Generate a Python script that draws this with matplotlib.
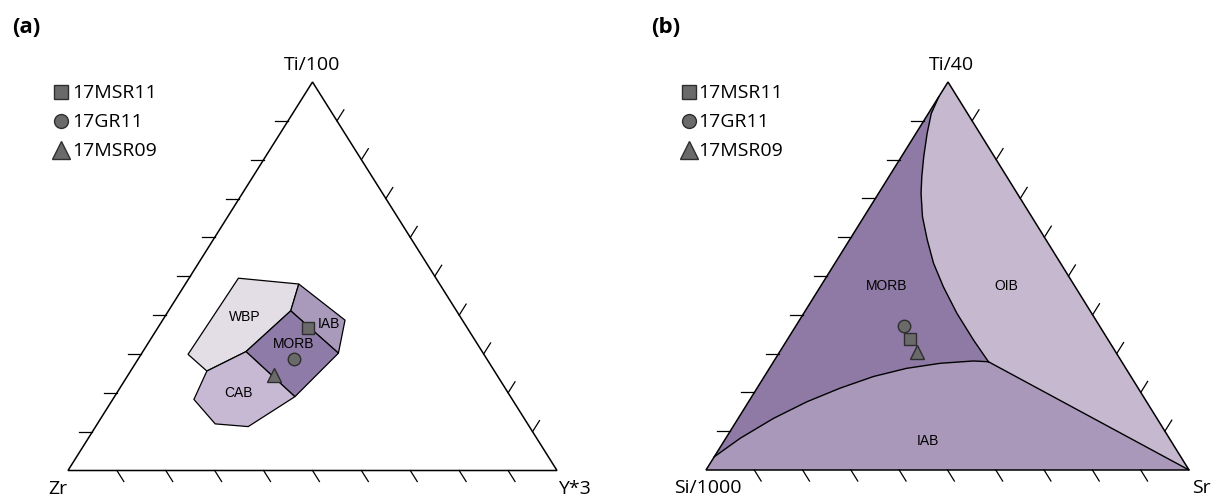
import matplotlib
matplotlib.use("Agg")
import matplotlib.pyplot as plt
from matplotlib.patches import Polygon

# ternary points are (b, c): b = fraction of the bottom-right corner,
# c = fraction of the top corner (the rest belongs to the bottom-left corner)

# ---- panel (a): Ti/100 - Zr - Y*3 ----
a_corner_names = ["Zr", "Y*3", "Ti/100"]
a_field_names = ["WBP", "IAB", "MORB", "CAB"]
a_wbp = [(0.101, 0.495), (0.232, 0.480), (0.250, 0.411), (0.211, 0.306), (0.156, 0.256), (0.096, 0.299)]
a_iab = [(0.232, 0.480), (0.373, 0.387), (0.402, 0.302), (0.250, 0.411)]
a_morb = [(0.250, 0.411), (0.402, 0.302), (0.369, 0.190), (0.211, 0.306)]
a_cab = [(0.211, 0.306), (0.369, 0.190), (0.312, 0.113), (0.241, 0.120), (0.166, 0.183), (0.156, 0.256)]
a_label_pos = [(0.165, 0.394), (0.346, 0.376), (0.298, 0.326), (0.249, 0.199)]

# ---- panel (b): Ti/40 - Si/1000 - Sr ----
b_corner_names = ["Si/1000", "Sr", "Ti/40"]
b_field_names = ["MORB", "OIB", "IAB"]
# MORB / OIB boundary, from the left edge near the top down to the triple junction
b_morb_oib = [(0.000, 0.962), (0.006, 0.919), (0.023, 0.868), (0.046, 0.808), (0.068, 0.756),
              (0.088, 0.713), (0.121, 0.653), (0.161, 0.593), (0.204, 0.533), (0.255, 0.472),
              (0.317, 0.404), (0.386, 0.335), (0.445, 0.279)]
# IAB upper boundary, from the left edge near the bottom to the triple junction
b_iab_top = [(0.000, 0.034), (0.030, 0.082), (0.073, 0.133), (0.121, 0.176), (0.172, 0.211),
             (0.226, 0.241), (0.284, 0.262), (0.347, 0.275), (0.413, 0.281), (0.445, 0.279)]
b_label_pos = [(0.135, 0.475), (0.384, 0.475), (0.421, 0.075)]

# ---- samples ----
sample_names = ["17MSR11", "17GR11", "17MSR09"]
sample_markers = ["s", "o", "^"]
a_samples = [(0.306, 0.368), (0.320, 0.286), (0.299, 0.246)]
b_samples = [(0.253, 0.337), (0.223, 0.372), (0.285, 0.305)]

# pixel positions of the triangle corners (bottom-left, bottom-right, top)
panels = {
    "a": [(68, 470.5), (557, 470.5), (312.5, 82)],
    "b": [(706, 470), (1189, 470), (948, 82)],
}
# corner label offsets in pixels (bottom-left, bottom-right, top)
label_offsets = {
    "a": [(-10, 18), (17, 18), (0, -17)],
    "b": [(2, 18), (12, 18), (3, -17)],
}


def to_xy(panel, b, c):
    (x0, y0), (x1, y1), (x2, y2) = panels[panel]
    a = 1 - b - c
    return a * x0 + b * x1 + c * x2, a * y0 + b * y1 + c * y2


def tern_poly(panel, pts):
    return [to_xy(panel, b, c) for b, c in pts]


def unit(dx, dy):
    n = (dx ** 2 + dy ** 2) ** 0.5
    return dx / n, dy / n


def draw_frame(ax, panel, names, label_font):
    A, B, C = panels[panel]
    ax.add_patch(Polygon([A, B, C], closed=True, fill=False, edgecolor="black", lw=1.1, zorder=5))
    L = 13
    up = unit(C[0] - A[0], C[1] - A[1])
    down = unit(B[0] - C[0], B[1] - C[1])
    for i in range(1, 10):
        t = i / 10
        # left edge, horizontal ticks
        px, py = A[0] + t * (C[0] - A[0]), A[1] + t * (C[1] - A[1])
        ax.plot([px, px - L], [py, py], color="black", lw=0.9, zorder=5)
        # right edge, ticks parallel to the left edge
        px, py = B[0] + t * (C[0] - B[0]), B[1] + t * (C[1] - B[1])
        ax.plot([px, px + L * up[0]], [py, py + L * up[1]], color="black", lw=0.9, zorder=5)
        # bottom edge, ticks parallel to the right edge
        px, py = A[0] + t * (B[0] - A[0]), A[1]
        ax.plot([px, px + L * down[0]], [py, py + L * down[1]], color="black", lw=0.9, zorder=5)
    for (cx, cy), (dx, dy), name in zip([A, B, C], label_offsets[panel], names):
        ax.text(cx + dx, cy + dy, name, ha="center", va="center", fontsize=14, family=label_font)


def draw_samples(ax, panel, pts):
    for (b, c), m in zip(pts, sample_markers):
        x, y = to_xy(panel, b, c)
        ax.plot(x, y, marker=m, ms=9 if m != "^" else 10, mfc="#6a6a6a", mec="#2e2e2e",
                mew=1.0, ls="none", zorder=6)


def draw_legend(ax, x_mark, x_text):
    ys = [92, 121, 150]
    sizes = [10, 10, 13]
    for name, m, y, s in zip(sample_names, sample_markers, ys, sizes):
        ax.plot(x_mark, y, marker=m, ms=s, mfc="#6a6a6a", mec="#2e2e2e", mew=1.0, ls="none")
        ax.text(x_text, y + 1, name, ha="left", va="center", fontsize=14, family="Open Sans")


fig = plt.figure(figsize=(12.22, 4.99), dpi=100)
ax = fig.add_axes([0, 0, 1, 1])
ax.set_xlim(0, 1222)
ax.set_ylim(499, 0)
ax.axis("off")

font = "Open Sans"
field_font = "Liberation Sans"

# ---------- panel (a) ----------
a_colors = ["#e3dde6", "#a99abb", "#8e7ba7", "#c7b9d3"]
for pts, col in zip([a_wbp, a_iab, a_morb, a_cab], a_colors):
    ax.add_patch(Polygon(tern_poly("a", pts), closed=True, facecolor=col, edgecolor="black",
                         lw=0.9, zorder=2))
for name, (b, c) in zip(a_field_names, a_label_pos):
    x, y = to_xy("a", b, c)
    ax.text(x, y, name, ha="center", va="center", fontsize=10, family=field_font, zorder=4)
draw_frame(ax, "a", a_corner_names, font)
draw_samples(ax, "a", a_samples)

# ---------- panel (b) ----------
A, B, C = panels["b"]
ax.add_patch(Polygon([A, B, C], closed=True, facecolor="#8f7aa6", edgecolor="none", zorder=1))
oib_pts = [(0.0, 1.0), (1.0, 0.0)] + b_morb_oib[::-1]
ax.add_patch(Polygon(tern_poly("b", oib_pts), closed=True, facecolor="#c5b8cf", edgecolor="none",
                     zorder=2))
iab_pts = [(0.0, 0.0), (1.0, 0.0)] + b_iab_top[::-1]
ax.add_patch(Polygon(tern_poly("b", iab_pts), closed=True, facecolor="#a998ba", edgecolor="none",
                     zorder=2))
for line in [b_morb_oib, b_iab_top, [b_iab_top[-1], (1.0, 0.0)]]:
    xy = tern_poly("b", line)
    ax.plot([p[0] for p in xy], [p[1] for p in xy], color="black", lw=1.0, zorder=3)
for name, (b, c) in zip(b_field_names, b_label_pos):
    x, y = to_xy("b", b, c)
    ax.text(x, y, name, ha="center", va="center", fontsize=10, family=field_font, zorder=4)
draw_frame(ax, "b", b_corner_names, font)
draw_samples(ax, "b", b_samples)

# legends and panel letters
draw_legend(ax, 61, 72)
draw_legend(ax, 689, 698)
ax.text(12, 27, "(a)", ha="left", va="center", fontsize=16, fontweight="bold", family=font)
ax.text(651, 27, "(b)", ha="left", va="center", fontsize=16, fontweight="bold", family=font)

fig.savefig("out.png", dpi=100)
